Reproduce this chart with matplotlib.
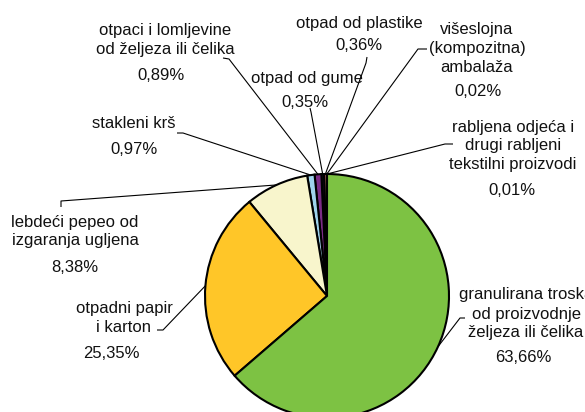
import numpy as np
import matplotlib
matplotlib.use("Agg")
import matplotlib.pyplot as plt

plt.rcParams['font.family'] = ['Liberation Sans', 'DejaVu Sans']

# data, counter-clockwise from the top
labels = [
    "rabljena odjeća i\ndrugi rabljeni\ntekstilni proizvodi",
    "višeslojna\n(kompozitna)\nambalaža",
    "otpad od plastike",
    "otpad od gume",
    "otpaci i lomljevine\nod željeza ili čelika",
    "stakleni krš",
    "lebdeći pepeo od\nizgaranja ugljena",
    "otpadni papir\ni karton",
    "granulirana troska\nod proizvodnje\nželjeza ili čelika",
]
values = [0.01, 0.02, 0.36, 0.35, 0.89, 0.97, 8.38, 25.35, 63.66]
pct_text = ["0,01%", "0,02%", "0,36%", "0,35%", "0,89%", "0,97%", "8,38%", "25,35%", "63,66%"]
colors = ["#C0504D", "#4F81BD", "#F08080", "#2A1030", "#7B2C86",
          "#9FD3EC", "#F8F5CC", "#FFC628", "#7DC243"]

# layout (pixel coords, y from top)
W, H = 585, 412
cx, cy, R = 327, 296, 122
# centre of each text line, centre of percent text
line_x = [513, 477, 359, 307, 165, 134, 75, 124, 526]
line_y = [[127, 145, 164], [29, 48, 67], [23], [78], [30, 49], [123], [222, 240], [308, 327], [295, 314, 333]]
pct_xy = [(512, 190), (478, 91), (359, 45), (305, 102), (161, 75), (134, 149), (75, 268), (111, 353), (523, 358)]
# leader line: start point and knee
leaders = [[(453, 144), (445, 144)], [(427, 49), (418, 49)], [(367, 57), (366, 63)],
           [(310, 108), (311, 112)], [(223, 58), (229, 59)], [(177, 133), (183, 133)],
           [(61, 207), (61, 201)], [(157, 330), (163, 330)], [(465, 318), (460, 318)]]


def P(x, y):
    return x, H - y


fig = plt.figure(figsize=(W / 100, H / 100), dpi=100)
ax = fig.add_axes([0, 0, 1, 1])

ax.pie(values, colors=colors, startangle=90, counterclock=True,
       center=P(cx, cy), radius=R,
       wedgeprops=dict(edgecolor='black', linewidth=1.5))

ax.set_xlim(0, W)
ax.set_ylim(0, H)
ax.set_aspect('equal')
ax.axis('off')

total = sum(values)
cum = 0
for i, v in enumerate(values):
    mid = 90 + (cum + v / 2) / total * 360
    cum += v
    ex = cx + R * np.cos(np.radians(mid))
    ey = cy - R * np.sin(np.radians(mid))
    pts = leaders[i] + [(ex, ey)]
    xs = [p[0] for p in pts]
    ys = [H - p[1] for p in pts]
    ax.plot(xs, ys, color='black', lw=0.8, solid_capstyle='butt')

    for line, y in zip(labels[i].split("\n"), line_y[i]):
        ax.text(*P(line_x[i], y), line, ha='center', va='center',
                fontsize=12, color='#111111')
    ax.text(*P(*pct_xy[i]), pct_text[i], ha='center', va='center',
            fontsize=12, color='#111111')

fig.savefig("out.png", dpi=100)
